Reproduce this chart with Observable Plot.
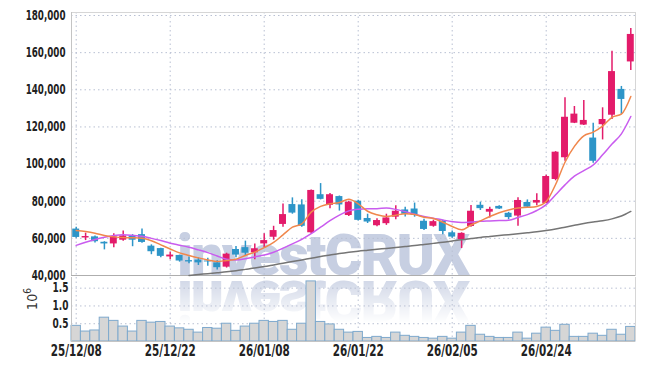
<!DOCTYPE html>
<html><head><meta charset="utf-8">
<script src="https://cdn.jsdelivr.net/npm/d3@7"></script>
<script src="https://cdn.jsdelivr.net/npm/@observablehq/plot@0.6"></script>
<style>
body{margin:0;background:#fff;}
#wrap{position:relative;width:645px;height:369px;overflow:hidden;}
#wm{position:absolute;left:0;top:0;z-index:0;}
#wrap svg.pl{position:relative;z-index:1;display:block;}
</style></head><body><div id="wrap"></div>
<script>
// ---- data ----
const open  = [65000,60200,60800,57900,57000,59000,61300,62000,55800,54500,50000,50800,48000,48300,47800,46800,44500,54000,55000,52200,57000,60600,67500,78200,78000,63000,83500,77800,82500,72300,80000,70700,66800,67900,71400,75300,75800,69200,66500,69200,63000,59300,66400,77800,74100,77200,73500,72000,79300,79000,78800,91700,103400,122000,121000,114000,121200,126300,140200,155000];
const high  = [66000,62800,61300,58200,62500,64000,62000,65000,56500,54700,52500,51000,50000,49500,49300,48000,52000,55600,58500,57000,62500,66500,78500,81800,80800,86000,89500,84200,82800,80000,80500,73000,70500,73000,77500,76800,79000,70300,69800,69800,64000,63000,77700,79500,76800,77500,74000,81800,80700,84000,94000,106700,135700,131000,134200,122000,130300,160800,141800,173000];
const low   = [60000,58800,57500,53800,55000,58500,55500,57300,51200,49600,48500,47200,46300,45400,45000,43000,44000,49500,50300,48500,55000,59000,66000,73000,66000,62500,80700,76000,74700,71800,69300,68000,66300,67000,70000,71500,71400,64200,66000,62000,60000,54500,66000,75000,71000,75500,70000,66500,76200,77500,78600,91000,101500,121800,120800,100500,113000,124000,126700,150400];
const close = [60500,61000,58200,57000,60800,61300,59000,57800,52800,50300,51000,47800,47300,46800,47300,44200,51500,51000,52000,54400,58800,64200,72800,73600,66500,85800,81000,83500,78000,79500,69700,68800,69600,71000,74600,73000,72400,64800,69000,63700,60700,62700,74600,76000,75600,75800,71200,80400,76800,80400,93300,106400,125200,126900,123500,101500,124000,149800,134800,169800];
const volume = [0.44,0.28,0.31,0.67,0.58,0.42,0.28,0.58,0.53,0.55,0.42,0.37,0.33,0.25,0.38,0.36,0.50,0.30,0.42,0.50,0.58,0.55,0.58,0.33,0.50,1.69,0.55,0.48,0.33,0.25,0.27,0.10,0.13,0.10,0.25,0.16,0.13,0.10,0.08,0.13,0.08,0.25,0.44,0.19,0.13,0.10,0.10,0.25,0.08,0.22,0.39,0.30,0.47,0.13,0.13,0.22,0.16,0.33,0.19,0.41];
const maShort = [64200,63700,62800,61500,60800,60400,60300,60000,58700,56500,54300,52200,50800,49500,48400,47500,48100,48800,50800,52600,55000,57800,61900,66000,67800,74100,77200,78600,79300,81100,78600,74600,72700,71800,72500,73200,72800,71400,70700,68700,66400,64600,67200,69400,71800,73800,75300,76300,76700,77200,79800,89000,101000,109500,115200,117200,120400,125200,126900,136400];
const maMid = [56200,57900,59400,60600,61500,61900,61600,61100,60000,58800,57400,56300,55200,53800,52300,50500,48800,48400,49000,50000,51000,52500,54700,57000,59500,62500,66000,69500,72500,74800,75700,76000,76000,76300,75600,74400,73000,71800,70900,69900,69000,68500,68800,69200,69400,69600,69800,71200,72800,75000,78200,83500,88800,93500,96500,99500,105000,110800,116300,125600];
const maLong = [null,null,null,null,null,null,null,null,null,null,null,null,40000,40500,41000,41500,42000,42600,43300,44000,44800,45700,46600,47500,48400,49300,50200,51000,51800,52500,53100,53600,54100,54600,55100,55600,56100,56700,57300,57900,58600,59300,59900,60500,61000,61500,62000,62500,63000,63500,64200,65000,66000,67000,68000,68800,69500,70500,72000,74500];
const priceTicks = [40000,60000,80000,100000,120000,140000,160000,180000];
const volTicks = [0.5,1.0,1.5];
const xTickIdx = [0,10,20,30,40,50];
const xTickLabels = ["25/12/08","25/12/22","26/01/08","26/01/22","26/02/05","26/02/24"];

// ---- style ----
const UP = "#e31b6a", DOWN = "#2d95c8";
const GRID = "#b9c0d3";
const FONT = "'DejaVu Sans Condensed','DejaVu Sans',sans-serif";
const dotted = {stroke: GRID, strokeOpacity: 1, strokeDasharray: "1.5,3", strokeWidth: 1};

const rows = open.map((o, i) => ({i, o, h: high[i], l: low[i], c: close[i]}));
const colorOf = d => d.c >= d.o ? UP : DOWN;
const lineRows = arr => arr.map((v, i) => ({i, v})).filter(d => d.v != null);
const vrows = volume.map((v, i) => ({i, v}));

const wrap = d3.select("#wrap");

// watermark
const wm = wrap.append("svg").attr("id","wm").attr("width",645).attr("height",369);
const defs = wm.append("defs");
const lg = defs.append("linearGradient").attr("id","fade").attr("x1",0).attr("y1",0).attr("x2",0).attr("y2",1);
lg.append("stop").attr("offset","0").attr("stop-color","#fff").attr("stop-opacity",0.85);
lg.append("stop").attr("offset","1").attr("stop-color","#fff").attr("stop-opacity",0);
defs.append("mask").attr("id","m").attr("maskUnits","userSpaceOnUse")
  .append("rect").attr("x",0).attr("y",278).attr("width",645).attr("height",45).attr("fill","url(#fade)");
const wmText = g => g.append("text").attr("x",177).attr("y",275)
  .attr("font-family","Roboto, 'DejaVu Sans', sans-serif").attr("font-weight",900)
  .attr("font-size",58).attr("letter-spacing",-2).attr("fill","#c7cfe2").text("investCRUX");
wmText(wm.append("g"));
wmText(wm.append("g").attr("mask","url(#m)").append("g").attr("transform","translate(0,556) scale(1,-1)"));

const baseStyle = {background: "transparent", fontFamily: FONT, overflow: "visible"};

const price = Plot.plot({
  width: 645, height: 277, marginLeft: 71, marginRight: 10, marginTop: 12, marginBottom: 2,
  x: {domain: [-0.5, 59.5], axis: null},
  y: {domain: [40000, 181615], axis: null},
  style: baseStyle,
  marks: [
    Plot.gridY(priceTicks, dotted),
    Plot.gridX(xTickIdx, dotted),
    Plot.frame({stroke: "#d6d6d6"}),
    Plot.ruleY([40000], {stroke: "#aeaeae", strokeWidth: 1}),
    Plot.ruleX([-0.5], {stroke: "#c4c4c4"}),
    Plot.ruleX(rows, {x: "i", y1: "l", y2: "h", stroke: colorOf, strokeWidth: 1.5}),
    Plot.rect(rows, {x1: d => d.i - 0.37, x2: d => d.i + 0.37, y1: d => Math.min(d.o, d.c), y2: d => Math.max(d.o, d.c), fill: colorOf}),
    Plot.line(lineRows(maLong), {x: "i", y: "v", stroke: "#757575", strokeWidth: 1.5, curve: "monotone-x"}),
    Plot.line(lineRows(maMid), {x: "i", y: "v", stroke: "#c95cef", strokeWidth: 1.5, curve: "monotone-x"}),
    Plot.line(lineRows(maShort), {x: "i", y: "v", stroke: "#f0874c", strokeWidth: 1.5, curve: "monotone-x"}),
    Plot.axisY(priceTicks, {tickSize: 0, tickPadding: 6, tickFormat: d3.format(","), fontSize: 13.5, fontWeight: "bold", fill: "#222", label: null})
  ]
});
price.classList.add("pl");
wrap.node().appendChild(price);

const vol = Plot.plot({
  width: 645, height: 92, marginLeft: 71, marginRight: 10, marginTop: 0, marginBottom: 28,
  x: {domain: [-0.5, 59.5]},
  y: {domain: [0, 1.8]},
  style: baseStyle,
  marks: [
    Plot.gridY(volTicks, dotted),
    Plot.gridX(xTickIdx, dotted),
    Plot.rect(vrows, {x1: d => d.i - 0.5, x2: d => d.i + 0.5, y1: 0, y2: "v", fill: "#d6d6d6", stroke: "#7ea9cd", strokeWidth: 1}),
    Plot.ruleX([-0.5], {stroke: "#c4c4c4"}),
    Plot.ruleX([59.5], {stroke: "#d6d6d6"}),
    Plot.ruleY([0], {stroke: "#c4c4c4"}),
    Plot.axisY(volTicks, {tickSize: 0, tickPadding: 3, tickFormat: d3.format(".1f"), fontSize: 13.5, fontWeight: "bold", fill: "#222", label: null}),
    Plot.axisX(xTickIdx, {tickSize: 0, tickPadding: 4, tickFormat: d => xTickLabels[xTickIdx.indexOf(d)], fontSize: 15, fontWeight: "bold", fill: "#222", label: null})
  ]
});
vol.classList.add("pl");
wrap.node().appendChild(vol);
const lab = d3.select(vol).append("text").attr("transform","translate(37,22) rotate(-90)")
  .attr("text-anchor","middle").attr("font-family",FONT).attr("font-size",14).attr("fill","#333");
lab.append("tspan").text("10");
lab.append("tspan").attr("dy",-6).attr("font-size",10).text("6");

// condense tick labels to match the narrow typeface of the reference
function squeeze(svg, sel, f) {
  d3.select(svg).selectAll(sel).each(function() {
    const L = this.getComputedTextLength();
    this.setAttribute("textLength", (L * f).toFixed(1));
    this.setAttribute("lengthAdjust", "spacingAndGlyphs");
  });
}
squeeze(price, 'g[aria-label="y-axis tick label"] text', 0.72);
squeeze(vol, 'g[aria-label="y-axis tick label"] text', 0.74);
squeeze(vol, 'g[aria-label="x-axis tick label"] text', 0.77);
</script></body></html>
